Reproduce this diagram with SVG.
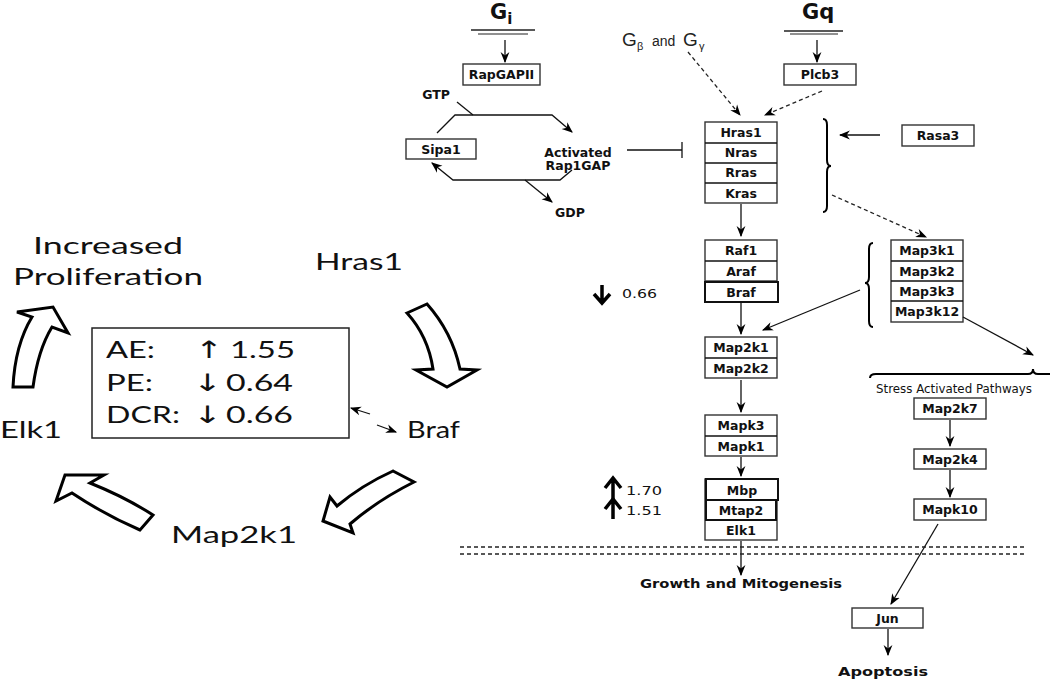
<svg xmlns="http://www.w3.org/2000/svg" width="1050" height="680" viewBox="0 0 1050 680">
<style>
.bx{fill:#fff;stroke:#333;stroke-width:1.4}
.bx2{fill:#fff;stroke:#111;stroke-width:2}
.bt{font-family:"DejaVu Sans","Liberation Sans",sans-serif;font-weight:bold;font-size:12.5px;fill:#111;text-anchor:middle}
.lt{font-family:Lato,"Open Sans","DejaVu Sans",sans-serif;font-size:24px;fill:#111}
.ar{font-family:"DejaVu Sans",sans-serif;font-size:24px;fill:#111}
.ln{stroke:#111;stroke-width:1.3;fill:none}
.ds{stroke:#222;stroke-width:1.3;fill:none;stroke-dasharray:4 3}
.blk{fill:#fff;stroke:#000;stroke-width:3;stroke-linejoin:miter}
.br{fill:none;stroke:#000;stroke-width:2}
.sm{font-family:"DejaVu Sans","Liberation Sans",sans-serif;font-size:12px;fill:#111}
</style>
<defs>
<marker id="ah" markerUnits="userSpaceOnUse" markerWidth="11" markerHeight="11" viewBox="0 0 10 10" refX="9" refY="5" orient="auto">
<path d="M0,1 L10,5 L0,9 L3,5 z" fill="#000"/>
</marker>
</defs>

<!-- left summary -->
<g id="left-labels">
<text class="lt" x="33" y="254" textLength="150" lengthAdjust="spacingAndGlyphs">Increased</text>
<text class="lt" x="13" y="285" textLength="190" lengthAdjust="spacingAndGlyphs">Proliferation</text>
<text class="lt" x="315" y="270" textLength="88" lengthAdjust="spacingAndGlyphs">Hras1</text>
<text class="lt" x="0" y="438" textLength="62" lengthAdjust="spacingAndGlyphs">Elk1</text>
<text class="lt" x="407" y="438" textLength="53" lengthAdjust="spacingAndGlyphs">Braf</text>
<text class="lt" x="171" y="543" textLength="126" lengthAdjust="spacingAndGlyphs">Map2k1</text>
</g>
<g id="summary-box">
<rect x="92" y="328" width="257" height="110" fill="#fff" stroke="#222" stroke-width="1.5"/>
<text class="lt" x="106" y="358" textLength="49" lengthAdjust="spacingAndGlyphs">AE:</text>
<text class="ar" x="195" y="358" textLength="28" lengthAdjust="spacingAndGlyphs">↑</text>
<text class="lt" x="230" y="358" textLength="65" lengthAdjust="spacingAndGlyphs">1.55</text>
<text class="lt" x="106" y="391" textLength="47" lengthAdjust="spacingAndGlyphs">PE:</text>
<text class="ar" x="193" y="391" textLength="29" lengthAdjust="spacingAndGlyphs">↓</text>
<text class="lt" x="226" y="391" textLength="67" lengthAdjust="spacingAndGlyphs">0.64</text>
<text class="lt" x="106" y="423" textLength="74" lengthAdjust="spacingAndGlyphs">DCR:</text>
<text class="ar" x="193" y="423" textLength="29" lengthAdjust="spacingAndGlyphs">↓</text>
<text class="lt" x="226" y="423" textLength="67" lengthAdjust="spacingAndGlyphs">0.66</text>
</g>
<g id="cycle-arrows">
<path class="blk" d="M407,313 L427,304 Q452,332 460,369 L477,370 L447,387 L416,370 L433,369 Q428,336 407,313 Z"/>
<path class="blk" d="M393,471 L414,482 Q378,500 350,524 L353,533 L323,521 L330,497 L337,506 Q362,485 393,471 Z"/>
<path class="blk" d="M153,515 L140,530 Q105,515 72,493 L56,501 L65,475 L104,475 L90,483 Q125,497 153,515 Z"/>
<path class="blk" d="M13,387 L33,387 Q38,350 52,327 L68,333 L53,307 L17,312 L32,317 Q15,345 13,387 Z"/>
<line class="ln" x1="370" y1="414" x2="351" y2="408" stroke-width="2" marker-end="url(#ah)"/>
<line class="ln" x1="377" y1="425" x2="396" y2="432" stroke-width="2" marker-end="url(#ah)"/>
</g>

<!-- right pathway: labels -->
<g id="Gi">
<text x="490" y="19" font-family="DejaVu Sans,sans-serif" font-weight="bold" font-size="21" fill="#111">G<tspan font-size="15" dy="5">i</tspan></text>
<line x1="471" y1="30" x2="535" y2="30" stroke="#222" stroke-width="1.5"/>
<line x1="478" y1="34" x2="528" y2="34" stroke="#222" stroke-width="1.2"/>
</g>
<g id="Gq">
<text x="802" y="19" font-family="DejaVu Sans,sans-serif" font-weight="bold" font-size="21" fill="#111">Gq</text>
<line x1="784" y1="31" x2="843" y2="31" stroke="#222" stroke-width="1.5"/>
<line x1="790" y1="34" x2="838" y2="34" stroke="#222" stroke-width="1.2"/>
</g>
<g id="GbGg">
<text font-family="Liberation Sans,Arial,sans-serif" font-size="19" fill="#222"><tspan x="622" y="46">G</tspan><tspan x="637" y="50" font-size="11">β</tspan><tspan x="652" y="46" font-size="14">and</tspan><tspan x="683" y="46">G</tspan><tspan x="699" y="50" font-size="11">γ</tspan></text>
</g>
<g id="RapGAPII"><rect class="bx" x="463" y="64" width="77" height="21"/><text class="bt" x="501.5" y="79">RapGAPII</text></g>
<g id="Plcb3"><rect class="bx" x="784" y="64" width="72" height="21"/><text class="bt" x="820" y="79">Plcb3</text></g>
<g id="Sipa1"><rect class="bx" x="406" y="139" width="70" height="20"/><text class="bt" x="441" y="154">Sipa1</text></g>
<g id="Rap1GAP"><text class="bt" x="578" y="157">Activated</text><text class="bt" x="578" y="170">Rap1GAP</text></g>
<g id="GTP"><text class="bt" x="436" y="99">GTP</text></g>
<g id="GDP"><text class="bt" x="570" y="217">GDP</text></g>
<g id="Rasa3"><rect class="bx" x="902" y="125" width="72" height="21"/><text class="bt" x="938" y="140">Rasa3</text></g>

<g id="Ras">
<rect class="bx" x="705" y="122" width="72" height="81"/>
<line class="ln" x1="705" y1="143" x2="777" y2="143"/><line class="ln" x1="705" y1="163" x2="777" y2="163"/><line class="ln" x1="705" y1="183" x2="777" y2="183"/>
<text class="bt" x="741" y="137">Hras1</text><text class="bt" x="741" y="157">Nras</text><text class="bt" x="741" y="177">Rras</text><text class="bt" x="741" y="198">Kras</text>
</g>
<g id="Raf">
<rect class="bx" x="705" y="240" width="72" height="41"/>
<line class="ln" x1="705" y1="261" x2="777" y2="261"/>
<rect class="bx2" x="705" y="282" width="73" height="20"/>
<text class="bt" x="741" y="255">Raf1</text><text class="bt" x="741" y="276">Araf</text><text class="bt" x="741" y="297">Braf</text>
</g>
<g id="Map2k">
<rect class="bx" x="705" y="337" width="72" height="41"/>
<line class="ln" x1="705" y1="358" x2="777" y2="358"/>
<text class="bt" x="741" y="352">Map2k1</text><text class="bt" x="741" y="373">Map2k2</text>
</g>
<g id="Mapk">
<rect class="bx" x="705" y="415" width="72" height="41"/>
<line class="ln" x1="705" y1="436" x2="777" y2="436"/>
<text class="bt" x="741" y="430">Mapk3</text><text class="bt" x="741" y="451">Mapk1</text>
</g>
<g id="Mbp">
<rect class="bx" x="705" y="479" width="72" height="61"/>
<rect class="bx2" x="706" y="479" width="72" height="21"/>
<rect class="bx2" x="706" y="500" width="70" height="20"/>
<text class="bt" x="742" y="495">Mbp</text><text class="bt" x="741" y="515">Mtap2</text><text class="bt" x="741" y="535">Elk1</text>
</g>
<g id="Map3k">
<rect class="bx" x="891" y="240" width="72" height="82"/>
<line class="ln" x1="891" y1="261" x2="963" y2="261"/><line class="ln" x1="891" y1="281" x2="963" y2="281"/><line class="ln" x1="891" y1="301" x2="963" y2="301"/>
<text class="bt" x="927" y="255">Map3k1</text><text class="bt" x="927" y="276">Map3k2</text><text class="bt" x="927" y="296">Map3k3</text><text class="bt" x="927" y="316">Map3k12</text>
</g>
<g id="Stress"><text class="sm" x="876" y="393" font-size="10.5" textLength="156" lengthAdjust="spacingAndGlyphs">Stress Activated Pathways</text></g>
<g id="Map2k7"><rect class="bx" x="914" y="398" width="72" height="21"/><text class="bt" x="950" y="413">Map2k7</text></g>
<g id="Map2k4"><rect class="bx" x="914" y="449" width="72" height="20"/><text class="bt" x="950" y="464">Map2k4</text></g>
<g id="Mapk10"><rect class="bx" x="914" y="499" width="72" height="21"/><text class="bt" x="950" y="514">Mapk10</text></g>
<g id="Jun"><rect class="bx" x="852" y="608" width="71" height="20"/><text class="bt" x="887.5" y="623">Jun</text></g>
<g id="Growth"><text class="bt" x="741" y="588" textLength="202" lengthAdjust="spacingAndGlyphs">Growth and Mitogenesis</text></g>
<g id="Apoptosis"><text class="bt" x="883" y="676" font-size="14" textLength="90" lengthAdjust="spacingAndGlyphs">Apoptosis</text></g>

<g id="fold-changes">
<path d="M602,285 L602,302 M594,294 L602,303 L610,294" fill="none" stroke="#000" stroke-width="3.5"/>
<text class="sm" x="622" y="298" textLength="35" lengthAdjust="spacingAndGlyphs">0.66</text>
<path d="M613,499 L613,480 M605,488 L613,478 L621,488" fill="none" stroke="#000" stroke-width="3.5"/>
<text class="sm" x="626" y="495" textLength="36" lengthAdjust="spacingAndGlyphs">1.70</text>
<path d="M613,519 L613,501 M605,509 L613,499 L621,509" fill="none" stroke="#000" stroke-width="3.5"/>
<text class="sm" x="626" y="515" textLength="36" lengthAdjust="spacingAndGlyphs">1.51</text>
</g>

<g id="braces">
<path class="br" d="M823,119 Q827,119 827,125 L827,160 Q827,166 831,166 Q827,166 827,172 L827,206 Q827,212 823,212"/>
<path class="br" d="M873,243 Q869,243 869,249 L869,277 Q869,283 865,283 Q869,283 869,289 L869,321 Q869,327 873,327"/>
<path class="br" d="M870,378 Q870,374 876,374 L1028,374 Q1033,374 1033,369 Q1033,374 1038,374 L1050,374"/>
</g>

<g id="connectors">
<line class="ln" x1="505" y1="40" x2="505" y2="62" marker-end="url(#ah)"/>
<line class="ln" x1="817" y1="40" x2="817" y2="62" marker-end="url(#ah)"/>
<line class="ds" x1="688" y1="52" x2="740" y2="115" marker-end="url(#ah)"/>
<line class="ds" x1="822" y1="91" x2="765" y2="115" marker-end="url(#ah)"/>
<path class="ln" d="M437,133 L455,115 L552,115 L572,132" marker-end="url(#ah)"/>
<line class="ln" x1="457" y1="102" x2="473" y2="115"/>
<path class="ln" d="M572,170 L560,180 L453,180 L432,163" marker-end="url(#ah)"/>
<line class="ln" x1="525" y1="180" x2="552" y2="202" marker-end="url(#ah)"/>
<line class="ln" x1="627" y1="150" x2="682" y2="150"/>
<line class="ln" x1="682" y1="142" x2="682" y2="158"/>
<line class="ln" x1="880" y1="135" x2="840" y2="135" marker-end="url(#ah)"/>
<line class="ds" x1="832" y1="195" x2="926" y2="237" marker-end="url(#ah)"/>
<line class="ln" x1="741" y1="204" x2="741" y2="236" marker-end="url(#ah)"/>
<line class="ln" x1="741" y1="303" x2="741" y2="334" marker-end="url(#ah)"/>
<line class="ln" x1="860" y1="290" x2="763" y2="330" marker-end="url(#ah)"/>
<line class="ln" x1="741" y1="380" x2="741" y2="412" marker-end="url(#ah)"/>
<line class="ln" x1="741" y1="457" x2="741" y2="476" marker-end="url(#ah)"/>
<line class="ln" x1="741" y1="541" x2="741" y2="575" marker-end="url(#ah)"/>
<line class="ln" x1="963" y1="317" x2="1033" y2="355" marker-end="url(#ah)"/>
<line class="ln" x1="950" y1="420" x2="950" y2="446" marker-end="url(#ah)"/>
<line class="ln" x1="950" y1="470" x2="950" y2="497" marker-end="url(#ah)"/>
<line class="ln" x1="938" y1="524" x2="891" y2="604" marker-end="url(#ah)"/>
<line class="ln" x1="888" y1="629" x2="888" y2="655" marker-end="url(#ah)"/>
<line class="ds" x1="460" y1="547" x2="1027" y2="547"/>
<line class="ds" x1="460" y1="554" x2="1027" y2="554"/>
</g>
</svg>
